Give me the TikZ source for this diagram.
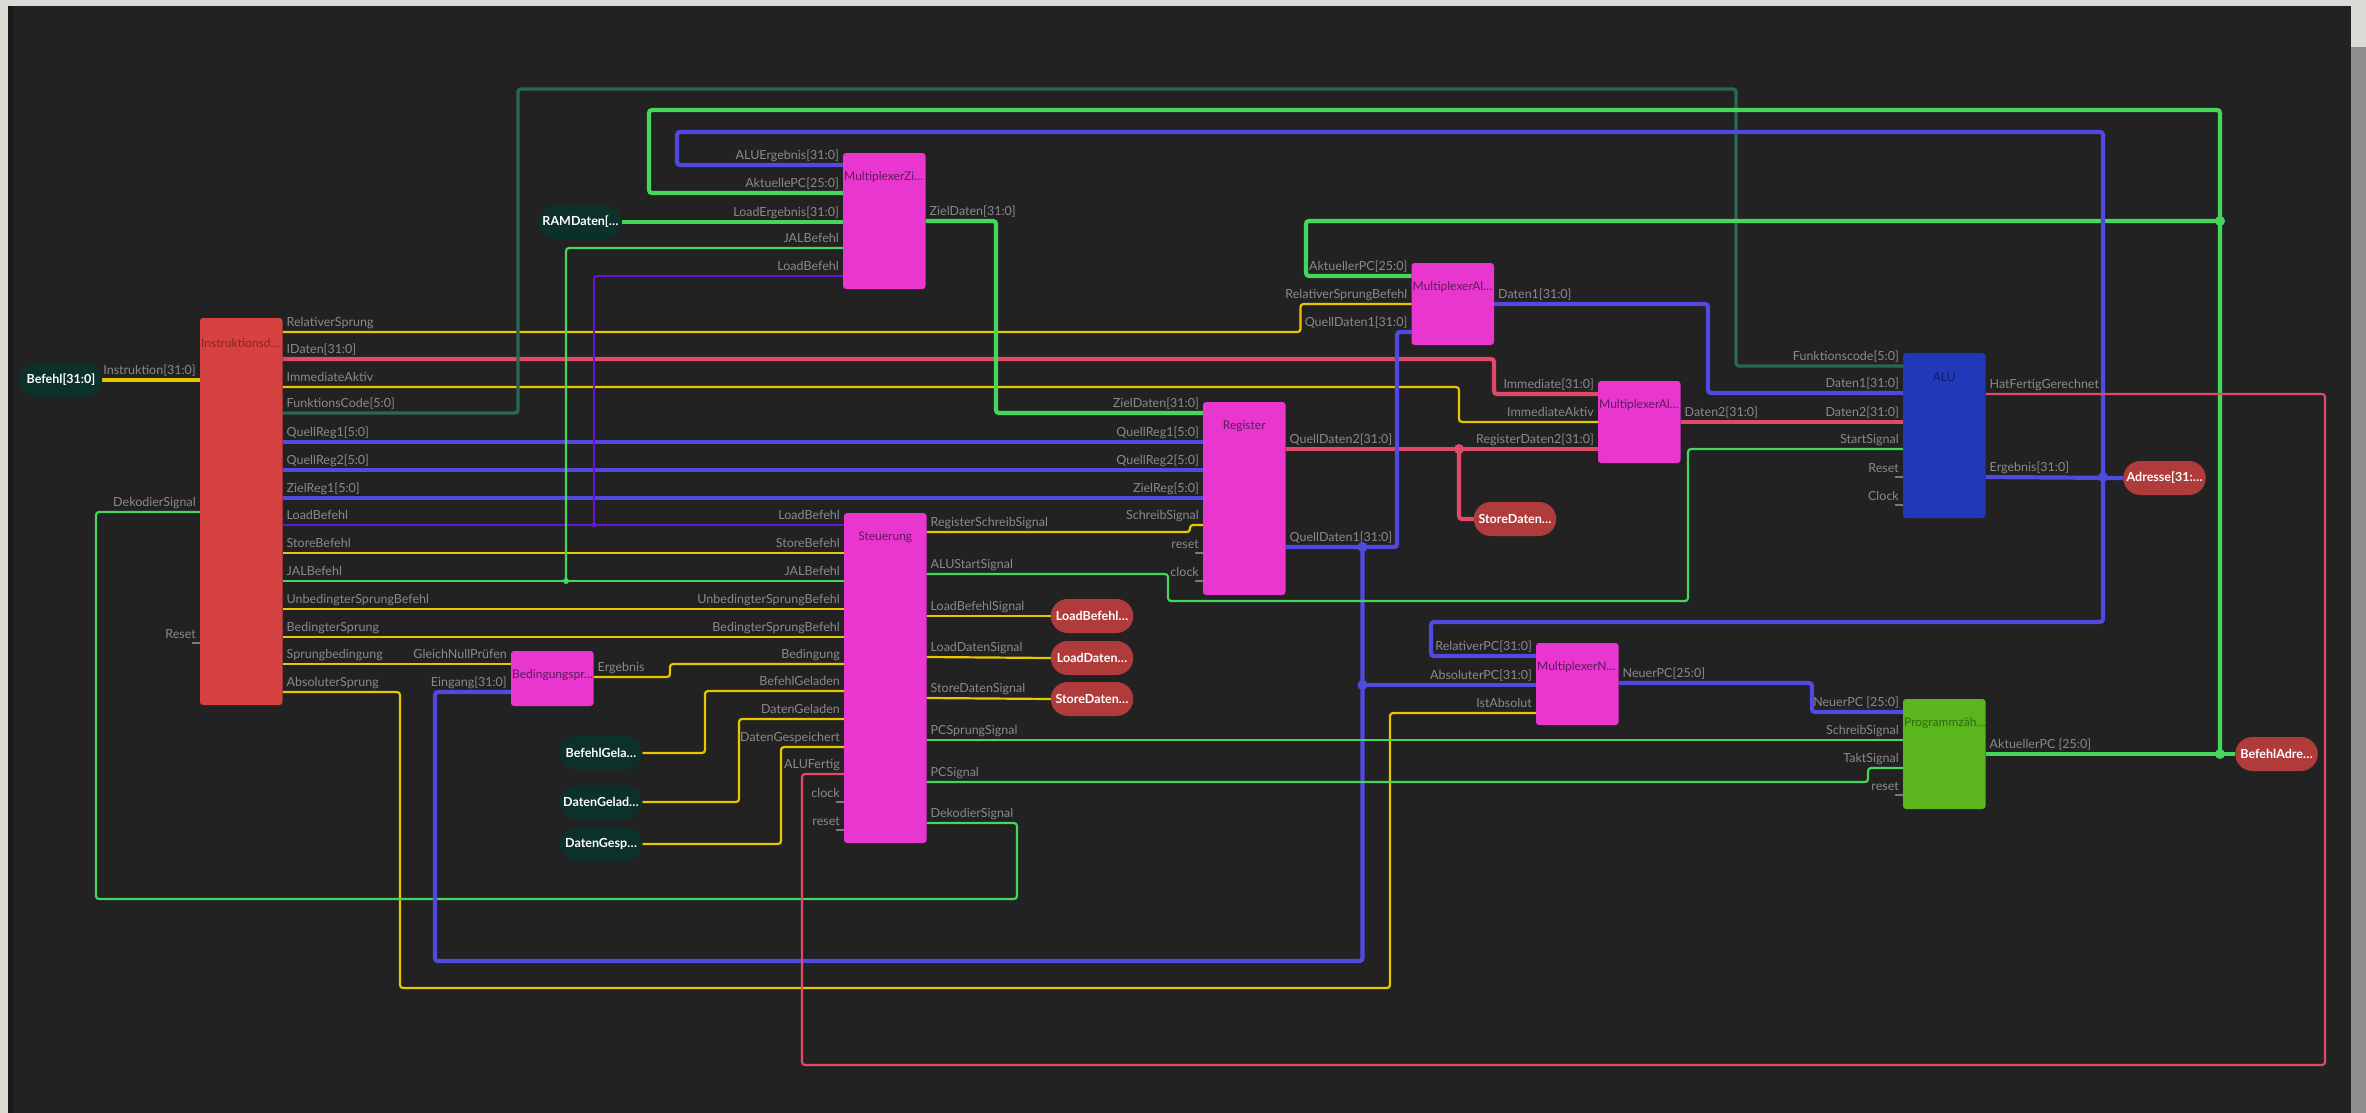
\documentclass[tikz,border=0pt]{standalone}
\usepackage{fontspec}
\setmainfont{Lato}
\usetikzlibrary{calc}
\pgfdeclarelayer{back}
\pgfdeclarelayer{wires}
\pgfsetlayers{back,wires,main}

\definecolor{bgdark}{HTML}{222222}
\definecolor{outer}{HTML}{DCDBD6}
\definecolor{rgray}{HTML}{8E8E8C}
\definecolor{edgedark}{HTML}{1A1A1A}
\definecolor{mag}{HTML}{E936CF}
\definecolor{decred}{HTML}{D64141}
\definecolor{alublue}{HTML}{2139B8}
\definecolor{pcgreen}{HTML}{5BB51F}
\definecolor{inpill}{HTML}{0C302A}
\definecolor{outpill}{HTML}{B03B3B}
\definecolor{wyel}{HTML}{E8C700}
\definecolor{wgreen}{HTML}{45D65C}
\definecolor{wblue}{HTML}{5149E0}
\definecolor{wred}{HTML}{E04A68}
\definecolor{wteal}{HTML}{2A6656}
\definecolor{wpurple}{HTML}{6614D6}
\definecolor{lblgray}{HTML}{8A8A8A}
\definecolor{stubgray}{HTML}{7A7A7A}
\definecolor{magtitle}{HTML}{5E1A5A}
\definecolor{redtitle}{HTML}{8E2222}
\definecolor{alutitle}{HTML}{0E1E6E}
\definecolor{pctitle}{HTML}{2E6A10}

\tikzset{
  blk/.style={rectangle, rounded corners=3pt, minimum width=82.5pt, anchor=north west, inner sep=0pt, outer sep=0pt},
  ttl/.style={inner sep=1pt, font=\fontsize{12}{13}\selectfont},
  pill/.style={rectangle, rounded corners=17pt, minimum width=82.5pt, minimum height=34pt, inner sep=0pt, outer sep=0pt, font=\bfseries\fontsize{12.5}{13}\selectfont, text=white},
  lin/.style={inner sep=0pt, anchor=base east, text=lblgray, font=\fontsize{12.5}{13}\selectfont},
  lout/.style={inner sep=0pt, anchor=base west, text=lblgray, font=\fontsize{12.5}{13}\selectfont},
  wire/.style={rounded corners=3pt},
  bus/.style={wire, line width=4.2pt},
  sig/.style={wire, line width=2.2pt},
  stub/.style={draw=stubgray, line width=1.3pt},
}

% port helpers: coordinate + label (in / out / unconnected with stub)
\newcommand\portin[4]{\coordinate (#1) at (#2,#3); \node[lin] (#1-l) at ($(#1)+(-4,-6)$) {#4};}
\newcommand\portout[4]{\coordinate (#1) at (#2,#3); \node[lout] (#1-l) at ($(#1)+(4,-6)$) {#4};}
\newcommand\portnc[4]{\coordinate (#1) at (#2,#3); \draw[stub] ($(#1)+(-8,0)$) -- (#1); \node[lin] (#1-l) at ($(#1)+(-4,-5)$) {#4};}

\begin{document}
\begin{tikzpicture}[x=1pt,y=-1pt]
\useasboundingbox (0,0) rectangle (2366,1113);

\begin{pgfonlayer}{back}
\fill[outer] (0,0) rectangle (2366,1113);
\fill[rgray] (2351,47) rectangle (2366,1113);
\fill[bgdark] (8,6) rectangle (2351,1113);
\fill[edgedark] (8,6) rectangle (12.5,1113);
\end{pgfonlayer}

% ---------- blocks ----------
\node[blk, fill=decred, minimum height=387pt] (dec) at (200,318) {};
\node[blk, fill=mag, minimum height=136pt] (muxz) at (843,153) {};
\node[blk, fill=mag, minimum height=82pt] (muxa1) at (1411.5,263) {};
\node[blk, fill=mag, minimum height=82pt] (muxa2) at (1598,381) {};
\node[blk, fill=mag, minimum height=193pt] (reg) at (1203,402) {};
\node[blk, fill=mag, minimum height=330pt] (steu) at (844,513) {};
\node[blk, fill=mag, minimum height=55pt] (bed) at (511,651) {};
\node[blk, fill=mag, minimum height=82pt] (muxn) at (1536,643) {};
\node[blk, fill=alublue, minimum height=165pt] (alu) at (1903,353) {};
\node[blk, fill=pcgreen, minimum height=110pt] (pc) at (1903,699) {};

% titles
\node[ttl, text=redtitle, anchor=west] (dec-t) at ($(dec.north west)+(0,25)$) {Instruktionsd…};
\node[ttl, text=magtitle, anchor=west] (muxz-t) at ($(muxz.north west)+(0,24)$) {MultiplexerZi…};
\node[ttl, text=magtitle, anchor=west] (muxa1-t) at ($(muxa1.north west)+(0,24)$) {MultiplexerAl…};
\node[ttl, text=magtitle, anchor=west] (muxa2-t) at ($(muxa2.north west)+(0,24)$) {MultiplexerAl…};
\node[ttl, text=magtitle, anchor=west] (bed-t) at ($(bed.north west)+(0,24)$) {Bedingungspr…};
\node[ttl, text=magtitle, anchor=west] (muxn-t) at ($(muxn.north west)+(0,24)$) {MultiplexerN…};
\node[ttl, text=pctitle, anchor=west] (pc-t) at ($(pc.north west)+(0,24)$) {Programmzäh…};
\node[ttl, text=magtitle] (reg-t) at ($(reg.north)+(0,24)$) {Register};
\node[ttl, text=magtitle] (steu-t) at ($(steu.north)+(0,24)$) {Steuerung};
\node[ttl, text=alutitle] (alu-t) at ($(alu.north)+(0,24)$) {ALU};

% ---------- pills ----------
\node[pill, fill=inpill] (befehl) at (61,380) {Befehl[31:0]};
\node[pill, fill=inpill] (ramdaten) at (580.5,222) {RAMDaten[…};
\node[pill, fill=inpill] (befgel) at (601,753) {BefehlGela…};
\node[pill, fill=inpill] (datgel) at (601,802) {DatenGelad…};
\node[pill, fill=inpill] (datgesp) at (601,844) {DatenGesp…};
\node[pill, fill=outpill] (lbpill) at (1092,616) {LoadBefehl…};
\node[pill, fill=outpill] (ldpill) at (1092,658) {LoadDaten…};
\node[pill, fill=outpill] (sdpill) at (1092,699) {StoreDaten…};
\node[pill, fill=outpill] (sd2pill) at (1515,519) {StoreDaten…};
\node[pill, fill=outpill] (adr) at (2164.5,478) {Adresse[31:…};
\node[pill, fill=outpill] (badr) at (2276.5,754) {BefehlAdre…};

% ---------- ports ----------
% Instruktionsdecoder
\portin{dec-in}{200}{380}{Instruktion[31:0]}
\portin{dec-dk}{200}{512}{DekodierSignal}
\portnc{dec-rst}{200}{643}{Reset}
\portout{dec-rs}{282.5}{332}{RelativerSprung}
\portout{dec-id}{282.5}{359}{IDaten[31:0]}
\portout{dec-ia}{282.5}{387}{ImmediateAktiv}
\portout{dec-fc}{282.5}{413}{FunktionsCode[5:0]}
\portout{dec-q1}{282.5}{442}{QuellReg1[5:0]}
\portout{dec-q2}{282.5}{470}{QuellReg2[5:0]}
\portout{dec-zr}{282.5}{498}{ZielReg1[5:0]}
\portout{dec-lb}{282.5}{525}{LoadBefehl}
\portout{dec-sb}{282.5}{553}{StoreBefehl}
\portout{dec-jal}{282.5}{581}{JALBefehl}
\portout{dec-ub}{282.5}{609}{UnbedingterSprungBefehl}
\portout{dec-bs}{282.5}{637}{BedingterSprung}
\portout{dec-sbd}{282.5}{664}{Sprungbedingung}
\portout{dec-as}{282.5}{692}{AbsoluterSprung}
% MultiplexerZiel
\portin{mz-alu}{843}{165}{ALUErgebnis[31:0]}
\portin{mz-pc}{843}{193}{AktuellePC[25:0]}
\portin{mz-le}{843}{222}{LoadErgebnis[31:0]}
\portin{mz-jal}{843}{248}{JALBefehl}
\portin{mz-lb}{843}{276}{LoadBefehl}
\portout{mz-zd}{925.5}{221}{ZielDaten[31:0]}
% MultiplexerAlu 1
\portin{ma1-pc}{1411.5}{276}{AktuellerPC[25:0]}
\portin{ma1-rs}{1411.5}{304}{RelativerSprungBefehl}
\portin{ma1-qd1}{1411.5}{332}{QuellDaten1[31:0]}
\portout{ma1-d1}{1494}{304}{Daten1[31:0]}
% MultiplexerAlu 2
\portin{ma2-im}{1598}{394}{Immediate[31:0]}
\portin{ma2-ia}{1598}{422}{ImmediateAktiv}
\portin{ma2-rd2}{1598}{449}{RegisterDaten2[31:0]}
\portout{ma2-d2}{1680.5}{422}{Daten2[31:0]}
% Register
\portin{reg-zd}{1203}{413}{ZielDaten[31:0]}
\portin{reg-q1}{1203}{442}{QuellReg1[5:0]}
\portin{reg-q2}{1203}{470}{QuellReg2[5:0]}
\portin{reg-zr}{1203}{498}{ZielReg[5:0]}
\portin{reg-ws}{1203}{525}{SchreibSignal}
\portnc{reg-rst}{1203}{553}{reset}
\portnc{reg-clk}{1203}{581}{clock}
\portout{reg-qd2}{1285.5}{449}{QuellDaten2[31:0]}
\portout{reg-qd1}{1285.5}{547}{QuellDaten1[31:0]}
% Steuerung
\portin{st-lb}{844}{525}{LoadBefehl}
\portin{st-sb}{844}{553}{StoreBefehl}
\portin{st-jal}{844}{581}{JALBefehl}
\portin{st-ub}{844}{609}{UnbedingterSprungBefehl}
\portin{st-bs}{844}{637}{BedingterSprungBefehl}
\portin{st-bd}{844}{664}{Bedingung}
\portin{st-bg}{844}{691}{BefehlGeladen}
\portin{st-dg}{844}{719}{DatenGeladen}
\portin{st-ds}{844}{747}{DatenGespeichert}
\portin{st-af}{844}{774}{ALUFertig}
\portnc{st-clk}{844}{802}{clock}
\portnc{st-rst}{844}{830}{reset}
\portout{st-rws}{926.5}{532}{RegisterSchreibSignal}
\portout{st-as}{926.5}{574}{ALUStartSignal}
\portout{st-lbs}{926.5}{616}{LoadBefehlSignal}
\portout{st-lds}{926.5}{657}{LoadDatenSignal}
\portout{st-sds}{926.5}{698}{StoreDatenSignal}
\portout{st-pcs}{926.5}{740}{PCSprungSignal}
\portout{st-pc}{926.5}{782}{PCSignal}
\portout{st-dk}{926.5}{823}{DekodierSignal}
% Bedingungspruefer
\portin{bd-gn}{511}{664}{GleichNullPrüfen}
\portin{bd-ein}{511}{692}{Eingang[31:0]}
\portout{bd-erg}{593.5}{677}{Ergebnis}
% MultiplexerNeuerPC
\portin{mn-rel}{1536}{656}{RelativerPC[31:0]}
\portin{mn-abs}{1536}{685}{AbsoluterPC[31:0]}
\portin{mn-ist}{1536}{713}{IstAbsolut}
\portout{mn-neu}{1618.5}{683}{NeuerPC[25:0]}
% ALU
\portin{alu-fc}{1903}{366}{Funktionscode[5:0]}
\portin{alu-d1}{1903}{393}{Daten1[31:0]}
\portin{alu-d2}{1903}{422}{Daten2[31:0]}
\portin{alu-st}{1903}{449}{StartSignal}
\portnc{alu-rst}{1903}{477}{Reset}
\portnc{alu-clk}{1903}{505}{Clock}
\portout{alu-hf}{1985.5}{394}{HatFertigGerechnet}
\portout{alu-erg}{1985.5}{477}{Ergebnis[31:0]}
% Programmzaehler
\portin{pc-neu}{1903}{712}{NeuerPC [25:0]}
\portin{pc-ws}{1903}{740}{SchreibSignal}
\portin{pc-takt}{1903}{768}{TaktSignal}
\portnc{pc-rst}{1903}{795}{reset}
\portout{pc-akt}{1985.5}{754}{AktuellerPC [25:0]}

% junction points
\coordinate (jlb) at (594,525);
\coordinate (jjal) at (566,581);
\coordinate (jqd2) at (1459,449);
\coordinate (jqd1) at (1362.5,547);
\coordinate (jabs) at (1362.5,685);
\coordinate (jerg) at (2103,477);
\coordinate (jpc1) at (2220,221);
\coordinate (jpc2) at (2220,754);

% ---------- wires ----------
\begin{pgfonlayer}{wires}
\draw[bus, wyel, line width=3.4pt] (befehl.east) -- (dec-in);
\draw[sig, wyel] (dec-rs) -| (1300.5,304) -- (ma1-rs);
\draw[bus, wred] (dec-id) -| (1494,394) -- (ma2-im);
\draw[sig, wyel] (dec-ia) -| (1459,422) -- (ma2-ia);
\draw[wire, wteal, line width=3.4pt] (dec-fc) -| (518,89) -| (1736,366) -- (alu-fc);
\draw[bus, wblue] (dec-q1) -- (reg-q1);
\draw[bus, wblue] (dec-q2) -- (reg-q2);
\draw[bus, wblue] (dec-zr) -- (reg-zr);
\draw[sig, wpurple, line width=1.8pt] (dec-lb) -- (st-lb);
\draw[sig, wpurple, line width=1.8pt] (jlb) |- (mz-lb);
\draw[sig, wyel] (dec-sb) -- (st-sb);
\draw[sig, wgreen] (dec-jal) -- (st-jal);
\draw[sig, wgreen] (jjal) |- (mz-jal);
\draw[sig, wyel] (dec-ub) -- (st-ub);
\draw[sig, wyel] (dec-bs) -- (st-bs);
\draw[sig, wyel] (dec-sbd) -- (bd-gn);
\draw[sig, wyel] (dec-as) -| (400,988) -| (1390,713) -- (mn-ist);
\draw[sig, wgreen] (st-dk) -| (1017,899) -| (96,512) -- (dec-dk);

\draw[bus, wgreen] (ramdaten.east) -- (mz-le);
\draw[bus, wgreen] (mz-zd) -| (996,413) -- (reg-zd);
\draw[bus, wgreen] (mz-pc) -| (649,110) -| (jpc2);
\draw[bus, wgreen] (ma1-pc) -| (1306,221) -- (jpc1);
\draw[bus, wgreen] (pc-akt) -- (badr.west);
\draw[bus, wblue] (mz-alu) -| (677,132) -| (2103,622) -| (1431,656) -- (mn-rel);
\draw[bus, wblue] (alu-erg) -- (adr.west);

\draw[bus, wred] (reg-qd2) -- (ma2-rd2);
\draw[bus, wred] (jqd2) |- (sd2pill.west);
\draw[bus, wblue] (reg-qd1) -| (1397,332) -- (ma1-qd1);
\draw[bus, wblue] (jqd1) |- (435,961) |- (bd-ein);
\draw[bus, wblue] (jabs) -- (mn-abs);
\draw[bus, wblue] (ma1-d1) -| (1708,393) -- (alu-d1);
\draw[bus, wred] (ma2-d2) -- (alu-d2);
\draw[sig, wred] (alu-hf) -| (2325,1065) -| (802,774) -- (st-af);
\draw[bus, wblue] (mn-neu) -| (1812,712) -- (pc-neu);

\draw[sig, wyel] (st-rws) -| (1190,525) -- (reg-ws);
\draw[sig, wgreen] (st-as) -| (1168,601) -| (1688,449) -- (alu-st);
\draw[sig, wyel] (st-lbs) -- (lbpill.west);
\draw[sig, wyel] (st-lds) -- (ldpill.west);
\draw[sig, wyel] (st-sds) -- (sdpill.west);
\draw[sig, wgreen] (st-pcs) -- (pc-ws);
\draw[sig, wgreen] (st-pc) -| (1868,768) -- (pc-takt);
\draw[sig, wyel] (bd-erg) -| (670,664) -- (st-bd);
\draw[sig, wyel] (befgel.east) -| (705,691) -- (st-bg);
\draw[sig, wyel] (datgel.east) -| (739,719) -- (st-dg);
\draw[sig, wyel] (datgesp.east) -| (781,747) -- (st-ds);
\end{pgfonlayer}

% junction dots
\fill[wpurple] (jlb) circle (2.6);
\fill[wgreen] (jjal) circle (3);
\fill[wred] (jqd2) circle (5);
\fill[wblue] (jqd1) circle (5);
\fill[wblue] (jabs) circle (5);
\fill[wblue] (jerg) circle (5);
\fill[wgreen] (jpc1) circle (5);
\fill[wgreen] (jpc2) circle (5);
\end{tikzpicture}
\end{document}
